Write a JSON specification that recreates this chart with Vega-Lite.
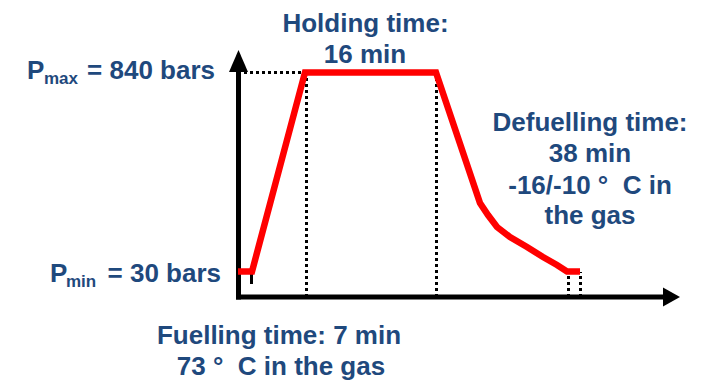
{
  "$schema": "https://vega.github.io/schema/vega-lite/v6.json",
  "width": 707,
  "height": 380,
  "autosize": {"type": "fit", "contains": "padding"},
  "padding": 0,
  "background": "white",
  "config": {"view": {"stroke": null}},
  "datasets": {
    "profile": [
      {"i": 0, "t": 238, "p": 108.5},
      {"i": 1, "t": 252, "p": 108.5},
      {"i": 2, "t": 305, "p": 307.5},
      {"i": 3, "t": 436, "p": 307.5},
      {"i": 4, "t": 480, "p": 177},
      {"i": 5, "t": 488, "p": 165},
      {"i": 6, "t": 497, "p": 153},
      {"i": 7, "t": 510, "p": 143},
      {"i": 8, "t": 527, "p": 133},
      {"i": 9, "t": 543, "p": 123},
      {"i": 10, "t": 557, "p": 115},
      {"i": 11, "t": 567, "p": 108.5},
      {"i": 12, "t": 580, "p": 108.5}
    ],
    "vdots": [
      {"t": 306.5, "p1": 83, "p2": 307},
      {"t": 436.5, "p1": 83, "p2": 307},
      {"t": 568.5, "p1": 83, "p2": 108},
      {"t": 580.5, "p1": 83, "p2": 108}
    ],
    "hdots": [
      {"t1": 244, "t2": 306, "p": 307.5}
    ],
    "axes": [
      {"t1": 238.5, "t2": 238.5, "p1": 80.5, "p2": 312},
      {"t1": 236, "t2": 665, "p1": 83, "p2": 83}
    ],
    "tick": [
      {"t": 251.5, "p1": 96, "p2": 108.5}
    ],
    "uparrow": [{"t": 238.5, "p": 319}],
    "rightarrow": [{"t": 671.5, "p": 83}],
    "labels": [
      {"label": "Holding time:", "t": 365.5, "p": 348},
      {"label": "16 min", "t": 365, "p": 317},
      {"label": "Defuelling time:", "t": 590, "p": 249},
      {"label": "38 min", "t": 590, "p": 218},
      {"label": "-16/-10 °\u00a0 C in", "t": 590, "p": 186},
      {"label": "the gas", "t": 590, "p": 156},
      {"label": "Fuelling time: 7 min", "t": 279, "p": 36},
      {"label": "73 °\u00a0 C in the gas", "t": 281, "p": 5}
    ],
    "plabels": [
      {"label": "P", "t": 27, "p": 301},
      {"label": "P", "t": 50, "p": 98}
    ],
    "subs": [
      {"label": "max", "t": 44, "p": 296},
      {"label": "min", "t": 66, "p": 93}
    ],
    "values": [
      {"label": "= 840 bars", "t": 215, "p": 301},
      {"label": "= 30 bars", "t": 221, "p": 98}
    ]
  },
  "layer": [
    {
      "data": {"name": "vdots"},
      "mark": {"type": "rule", "color": "black", "strokeWidth": 3, "strokeDash": [3, 3]},
      "encoding": {
        "x": {"field": "t", "type": "quantitative", "scale": {"domain": [0, 707], "nice": false, "zero": false}, "axis": null},
        "y": {"field": "p1", "type": "quantitative", "scale": {"domain": [0, 380], "nice": false, "zero": false}, "axis": null},
        "y2": {"field": "p2"}
      }
    },
    {
      "data": {"name": "hdots"},
      "mark": {"type": "rule", "color": "black", "strokeWidth": 3, "strokeDash": [3, 3]},
      "encoding": {
        "x": {"field": "t1", "type": "quantitative"},
        "x2": {"field": "t2"},
        "y": {"field": "p", "type": "quantitative"}
      }
    },
    {
      "data": {"name": "axes"},
      "mark": {"type": "rule", "color": "black", "strokeWidth": 5},
      "encoding": {
        "x": {"field": "t1", "type": "quantitative"},
        "x2": {"field": "t2"},
        "y": {"field": "p1", "type": "quantitative"},
        "y2": {"field": "p2"}
      }
    },
    {
      "data": {"name": "tick"},
      "mark": {"type": "rule", "color": "black", "strokeWidth": 3},
      "encoding": {
        "x": {"field": "t", "type": "quantitative"},
        "y": {"field": "p1", "type": "quantitative"},
        "y2": {"field": "p2"}
      }
    },
    {
      "data": {"name": "profile"},
      "mark": {"type": "line", "color": "#FF0000", "strokeWidth": 6.5, "strokeJoin": "miter", "strokeCap": "butt"},
      "encoding": {
        "x": {"field": "t", "type": "quantitative"},
        "y": {"field": "p", "type": "quantitative"},
        "order": {"field": "i", "type": "quantitative"}
      }
    },
    {
      "data": {"name": "uparrow"},
      "mark": {"type": "point", "filled": true, "color": "black", "opacity": 1, "size": 400, "strokeWidth": 0, "shape": "M0,-1.1L-0.95,1.1L0.95,1.1Z"},
      "encoding": {
        "x": {"field": "t", "type": "quantitative"},
        "y": {"field": "p", "type": "quantitative"}
      }
    },
    {
      "data": {"name": "rightarrow"},
      "mark": {"type": "point", "filled": true, "color": "black", "opacity": 1, "size": 400, "strokeWidth": 0, "shape": "M0.85,0L-0.85,-0.95L-0.85,0.95Z"},
      "encoding": {
        "x": {"field": "t", "type": "quantitative"},
        "y": {"field": "p", "type": "quantitative"}
      }
    },
    {
      "data": {"name": "labels"},
      "mark": {"type": "text", "font": "Liberation Sans", "fontWeight": "bold", "fontSize": 26, "color": "#1F497D", "align": "center", "baseline": "alphabetic"},
      "encoding": {
        "x": {"field": "t", "type": "quantitative"},
        "y": {"field": "p", "type": "quantitative"},
        "text": {"field": "label"}
      }
    },
    {
      "data": {"name": "plabels"},
      "mark": {"type": "text", "font": "Liberation Sans", "fontWeight": "bold", "fontSize": 26, "color": "#1F497D", "align": "left", "baseline": "alphabetic"},
      "encoding": {
        "x": {"field": "t", "type": "quantitative"},
        "y": {"field": "p", "type": "quantitative"},
        "text": {"field": "label"}
      }
    },
    {
      "data": {"name": "subs"},
      "mark": {"type": "text", "font": "Liberation Sans", "fontWeight": "bold", "fontSize": 17, "color": "#1F497D", "align": "left", "baseline": "alphabetic"},
      "encoding": {
        "x": {"field": "t", "type": "quantitative"},
        "y": {"field": "p", "type": "quantitative"},
        "text": {"field": "label"}
      }
    },
    {
      "data": {"name": "values"},
      "mark": {"type": "text", "font": "Liberation Sans", "fontWeight": "bold", "fontSize": 26, "color": "#1F497D", "align": "right", "baseline": "alphabetic"},
      "encoding": {
        "x": {"field": "t", "type": "quantitative"},
        "y": {"field": "p", "type": "quantitative"},
        "text": {"field": "label"}
      }
    }
  ]
}
